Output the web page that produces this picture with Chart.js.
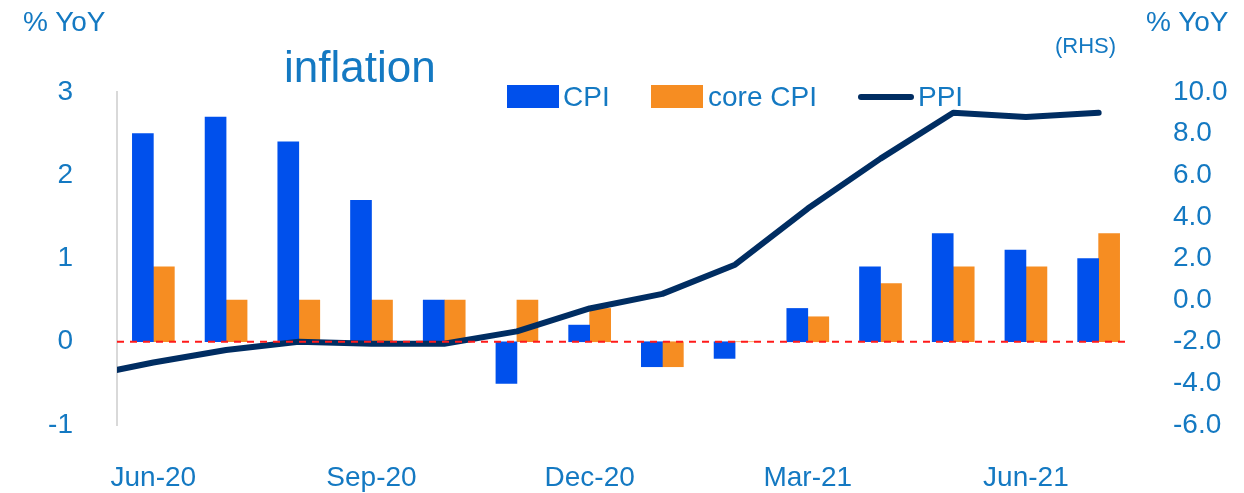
<!DOCTYPE html>
<html>
<head>
<meta charset="utf-8">
<script src="https://cdn.jsdelivr.net/npm/chart.js@4"></script>
<style>
  body { margin: 0; background: #fff; }
  #wrap { position: relative; width: 1244px; height: 493px; font-family: "Liberation Sans", Arial, sans-serif; color: #1479c2; }
  #wrap .txt { position: absolute; white-space: nowrap; line-height: 1; }
  #legend { position: absolute; left: 507px; top: 82px; height: 30px; }
  .item { position: absolute; top: 0; font-size: 28px; line-height: 30px; white-space: nowrap; }
  .box { position: absolute; top: 3px; width: 52px; height: 23px; }
  .ln { position: absolute; top: 12px; width: 56px; height: 6px; border-radius: 3px; }
</style>
</head>
<body>
<div id="wrap">
  <canvas id="myChart" width="1244" height="493"></canvas>
  <div class="txt" style="left:23px; top:8px; font-size:28px;">% YoY</div>
  <div class="txt" style="left:1146px; top:8px; font-size:28px;">% YoY</div>
  <div class="txt" style="left:1055px; top:35px; font-size:22px;">(RHS)</div>
  <div class="txt" style="left:284px; top:45px; font-size:44px;">inflation</div>
  <div id="legend"></div>
</div>
<script>
// monthly data, Jun-20 .. Jul-21
var meses = ['Jun-20','Jul-20','Aug-20','Sep-20','Oct-20','Nov-20','Dec-20','Jan-21','Feb-21','Mar-21','Apr-21','May-21','Jun-21','Jul-21']
var cpi  = [2.5, 2.7, 2.4, 1.7, 0.5, -0.5, 0.2, -0.3, -0.2, 0.4, 0.9, 1.3, 1.1, 1.0]
var core = [0.9, 0.5, 0.5, 0.5, 0.5, 0.5, 0.4, -0.3, 0.0, 0.3, 0.7, 0.9, 0.9, 1.3]
// PPI starts one month earlier (May-20), that point sits off the left edge
var ppiMeses = ['May-20'].concat(meses)
var ppi  = [-3.7, -3.0, -2.4, -2.0, -2.1, -2.1, -1.5, -0.4, 0.3, 1.7, 4.4, 6.8, 9.0, 8.8, 9.0]
var mostrar = ['Jun-20','Sep-20','Dec-20','Mar-21','Jun-21']

var nomes = ['CPI', 'core CPI', 'PPI']
var cores = ['#0050ec', '#f68d22', '#002d62']
var corTexto = '#1479c2'
var fonte = '"Liberation Sans", Arial, sans-serif'

const linhaZero = {
  id: 'linhaZero',
  afterDatasetsDraw(chart) {
    const y = chart.scales.y.getPixelForValue(0)
    const a = chart.chartArea
    const c = chart.ctx
    c.save()
    c.strokeStyle = '#ff1a1a'
    c.lineWidth = 2
    c.setLineDash([7, 6])
    c.beginPath()
    c.moveTo(a.left, y)
    c.lineTo(a.right - 4, y)
    c.stroke()
    c.restore()
  }
}

const ctx = document.getElementById('myChart')

new Chart(ctx, {
  type: 'bar',
  data: {
    labels: meses,
    datasets: [
      {
        type: 'line',
        label: nomes[2],
        data: ppi.map((v, i) => ({ x: i - 1, y: v })),
        xAxisID: 'xl',
        yAxisID: 'y2',
        borderColor: cores[2],
        borderWidth: 6,
        pointRadius: 0,
        tension: 0,
        borderJoinStyle: 'round',
        borderCapStyle: 'round',
        clip: 0,
        order: 0
      },
      {
        type: 'bar',
        label: nomes[0],
        data: cpi,
        backgroundColor: cores[0],
        xAxisID: 'x',
        yAxisID: 'y',
        barThickness: 21,
        order: 1
      },
      {
        type: 'bar',
        label: nomes[1],
        data: core,
        backgroundColor: cores[1],
        xAxisID: 'x',
        yAxisID: 'y',
        barThickness: 21,
        order: 1
      }
    ]
  },
  options: {
    responsive: false,
    animation: false,
    events: [],
    layout: { padding: { top: 92, left: 0, right: 0, bottom: 0 } },
    plugins: { legend: { display: false }, tooltip: { enabled: false } },
    scales: {
      x: {
        type: 'category',
        offset: true,
        grid: { display: false, drawTicks: false },
        border: { display: false },
        ticks: {
          autoSkip: false,
          maxRotation: 0,
          padding: 36,
          color: corTexto,
          font: { family: fonte, size: 28 },
          callback: function (v) {
            var l = this.getLabelForValue(v)
            return mostrar.includes(l) ? l : ''
          }
        },
        afterFit: s => { s.height = 493 - 425 }
      },
      xl: {
        type: 'linear',
        position: 'bottom',
        offset: false,
        min: -0.5,
        max: meses.length - 0.5,
        display: false
      },
      y: {
        position: 'left',
        min: -1,
        max: 3,
        grid: { display: false, drawTicks: false },
        border: { display: true, color: '#d9d9d9', width: 2 },
        ticks: {
          stepSize: 1,
          padding: 44,
          color: corTexto,
          font: { family: fonte, size: 28 }
        },
        afterFit: s => { s.width = 117 }
      },
      y2: {
        position: 'right',
        min: -6,
        max: 10,
        grid: { display: false, drawTicks: false },
        border: { display: false },
        ticks: {
          stepSize: 2,
          padding: 38,
          color: corTexto,
          font: { family: fonte, size: 28 },
          callback: v => v.toFixed(1)
        },
        afterFit: s => { s.width = 1244 - 1135 }
      }
    }
  },
  plugins: [linhaZero]
})

// legenda feita a mao
var legenda = document.getElementById('legend')
var posicoes = [[0, 56], [144, 201], [351, 411]]
for (var i = 0; i < nomes.length; i++) {
  var item = document.createElement('div')
  item.className = 'item'
  item.style.left = posicoes[i][1] + 'px'
  item.textContent = nomes[i]
  var marca = document.createElement('div')
  marca.className = i == 2 ? 'ln' : 'box'
  marca.style.left = posicoes[i][0] + 'px'
  marca.style.background = cores[i]
  legenda.appendChild(marca)
  legenda.appendChild(item)
}
</script>
</body>
</html>
